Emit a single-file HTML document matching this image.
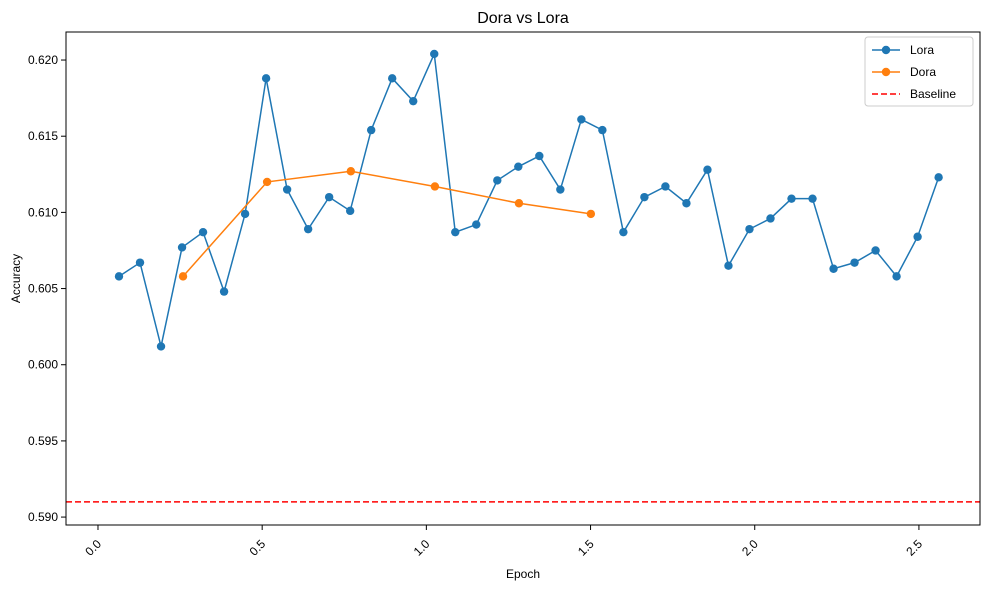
<!DOCTYPE html>
<html><head><meta charset="utf-8"><style>
body{margin:0;background:#fff;font-family:"Liberation Sans","DejaVu Sans",sans-serif}
svg text{font-family:"Liberation Sans","DejaVu Sans",sans-serif;fill:#000}
</style></head><body>
<svg id="chart" width="989" height="590" xmlns="http://www.w3.org/2000/svg"></svg>
<script>
const loraEpochs=[0.064,0.128,0.192,0.256,0.32,0.384,0.448,0.512,0.576,0.64,0.704,0.768,0.832,0.896,0.96,1.024,1.088,1.152,1.216,1.28,1.344,1.408,1.472,1.536,1.6,1.664,1.728,1.792,1.856,1.92,1.984,2.048,2.112,2.176,2.24,2.304,2.368,2.432,2.496,2.56];
const loraAcc=[0.6058,0.6067,0.6012,0.6077,0.6087,0.6048,0.6099,0.6188,0.6115,0.6089,0.6110,0.6101,0.6154,0.6188,0.6173,0.6204,0.6087,0.6092,0.6121,0.6130,0.6137,0.6115,0.6161,0.6154,0.6087,0.6110,0.6117,0.6106,0.6128,0.6065,0.6089,0.6096,0.6109,0.6109,0.6063,0.6067,0.6075,0.6058,0.6084,0.6123];
const doraEpochs=[0.259,0.515,0.770,1.026,1.282,1.501];
const doraAcc=[0.6058,0.6120,0.6127,0.6117,0.6106,0.6099];
const baseline=0.5910;
const xTicks=[0.0,0.5,1.0,1.5,2.0,2.5];
const yTicks=[0.590,0.595,0.600,0.605,0.610,0.615,0.620];

const L=66,R=980,T=32,B=525,xMin=-0.0974,xMax=2.686,yMin=0.58948,yMax=0.62184;
const sx=v=>L+(v-xMin)/(xMax-xMin)*(R-L);
const sy=v=>B-(v-yMin)/(yMax-yMin)*(B-T);
const svg=document.getElementById('chart');
const NS='http://www.w3.org/2000/svg';
function mk(tag,attrs,parent){const e=document.createElementNS(NS,tag);for(const k in attrs)e.setAttribute(k,attrs[k]);(parent||svg).appendChild(e);return e;}

let t=mk('text',{x:(L+R)/2,y:23,'text-anchor':'middle','font-size':16});t.textContent='Dora vs Lora';



xTicks.forEach(v=>{const x=sx(v);
 const l=mk('line',{x1:x,x2:x,y1:B,y2:B+5,stroke:'#000'});
 
 
 const tx=mk('text',{x:x,y:B+18,'text-anchor':'end','font-size':12,transform:`rotate(-45 ${x+4} ${B+14})`});
 tx.textContent=v.toFixed(1);
 
 
});
yTicks.forEach(v=>{const y=sy(v);
 const l=mk('line',{x1:L-5,x2:L,y1:y,y2:y,stroke:'#000'});
 
 
 const tx=mk('text',{x:L-8,y:y+4,'text-anchor':'end','font-size':12});
 tx.textContent=v.toFixed(3);
 
 
});
t=mk('text',{x:(L+R)/2,y:578,'text-anchor':'middle','font-size':12});t.textContent='Epoch';


t=mk('text',{x:20,y:(T+B)/2,'text-anchor':'middle','font-size':12,transform:`rotate(-90 20 ${(T+B)/2})`});t.textContent='Accuracy';



let bl=mk('line',{x1:L,x2:R,y1:sy(baseline),y2:sy(baseline),stroke:'#ff0000','stroke-width':1.5,'stroke-dasharray':'6,3'});



function series(xs,ys,color,name){
 const p=mk('polyline',{points:xs.map((x,i)=>sx(x)+','+sy(ys[i])).join(' '),fill:'none',stroke:color,'stroke-width':1.5});
 
 
 xs.forEach((x,i)=>{const c=mk('circle',{cx:sx(x),cy:sy(ys[i]),r:4.2,fill:color});
  
  });
}
series(loraEpochs,loraAcc,'#1f77b4','lora');
series(doraEpochs,doraAcc,'#ff7f0e','dora');

let fr=mk('rect',{x:L,y:T,width:R-L,height:B-T,fill:'none',stroke:'#000','stroke-width':1});



const g=mk('g',{});


mk('rect',{x:865,y:37,width:108,height:69,rx:3,fill:'#fff',stroke:'#ccc'},g);
[['Lora','#1f77b4',false],['Dora','#ff7f0e',false],['Baseline','#ff0000',true]].forEach((d,i)=>{
 const y=50+i*22;
 const e=mk('g',{},g);
 
 
 mk('line',{x1:872,x2:900,y1:y,y2:y,stroke:d[1],'stroke-width':1.5,'stroke-dasharray':d[2]?'6,3':'none'},e);
 if(!d[2])mk('circle',{cx:886,cy:y,r:4.2,fill:d[1]},e);
 const tx=mk('text',{x:910,y:y+4,'font-size':12},e);tx.textContent=d[0];
});
</script>
</body></html>
